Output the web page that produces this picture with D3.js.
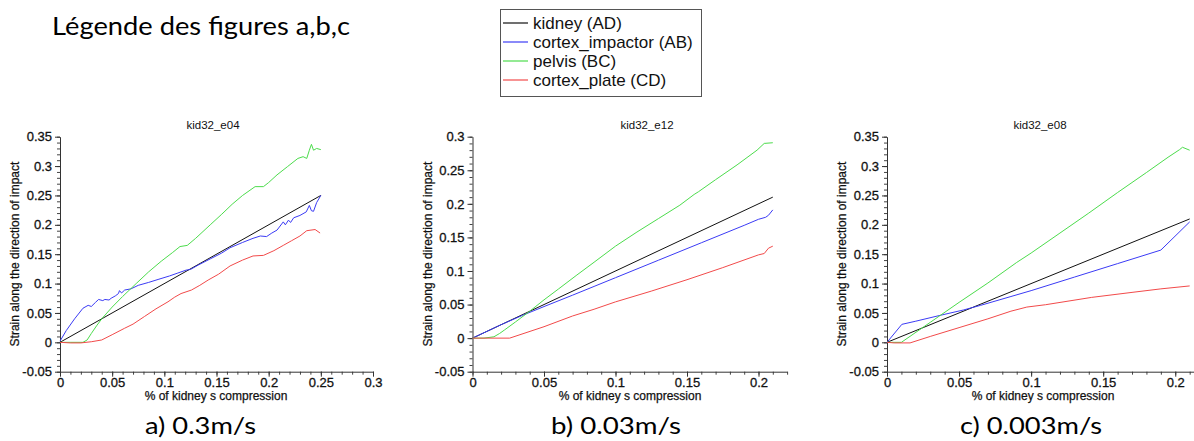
<!DOCTYPE html>
<html>
<head>
<meta charset="utf-8">
<script src="https://cdn.jsdelivr.net/npm/d3@7/dist/d3.min.js"></script>
<style>
  html, body { margin: 0; padding: 0; background: #fff; }
  svg { display: block; }
</style>
</head>
<body>
<svg id="chart" width="1194" height="441"></svg>
<script>
// ---------------- DATA ----------------
const seriesNames = ["kidney (AD)", "cortex_impactor (AB)", "pelvis (BC)", "cortex_plate (CD)"];
const chartTitles = ["kid32_e04", "kid32_e12", "kid32_e08"];
const captions = ["a) 0.3m/s", "b) 0.03m/s", "c) 0.003m/s"];
const legendTitle = "Légende des figures a,b,c";
const xAxisTitle = "% of kidney s compression";
const yAxisTitle = "Strain along the direction of impact";

const xTicksA = [0, 0.05, 0.1, 0.15, 0.2, 0.25, 0.3];
const xTicksB = [0, 0.05, 0.1, 0.15, 0.2];
const xTicksC = [0, 0.05, 0.1, 0.15, 0.2];
const yTicksA = [-0.05, 0, 0.05, 0.1, 0.15, 0.2, 0.25, 0.3, 0.35];
const yTicksB = [-0.05, 0, 0.05, 0.1, 0.15, 0.2, 0.25, 0.3];
const yTicksC = [-0.05, 0, 0.05, 0.1, 0.15, 0.2, 0.25, 0.3, 0.35];

// chart a) kid32_e04   [x, y]
const kidneyA = [[0, 0], [0.25, 0.25]];
const impactorA = [[0,0.002],[0.006,0.02],[0.014,0.04],[0.022,0.058],[0.027,0.063],[0.03,0.061],[0.034,0.068],[0.037,0.073],[0.041,0.071],[0.043,0.073],[0.047,0.072],[0.049,0.075],[0.053,0.079],[0.056,0.083],[0.057,0.088],[0.059,0.084],[0.062,0.089],[0.068,0.091],[0.075,0.097],[0.085,0.102],[0.094,0.107],[0.105,0.113],[0.113,0.118],[0.121,0.123],[0.125,0.124],[0.133,0.132],[0.144,0.142],[0.155,0.152],[0.163,0.161],[0.175,0.17],[0.185,0.177],[0.192,0.181],[0.198,0.18],[0.203,0.186],[0.208,0.191],[0.214,0.205],[0.216,0.2],[0.219,0.208],[0.221,0.204],[0.224,0.212],[0.23,0.216],[0.236,0.222],[0.239,0.233],[0.241,0.224],[0.243,0.223],[0.246,0.238],[0.25,0.25]];
const pelvisA = [[0,0],[0.022,0],[0.026,0.004],[0.03,0.015],[0.035,0.028],[0.04,0.04],[0.05,0.06],[0.06,0.078],[0.073,0.1],[0.085,0.12],[0.097,0.138],[0.108,0.153],[0.115,0.163],[0.122,0.165],[0.13,0.177],[0.144,0.2],[0.155,0.218],[0.165,0.235],[0.175,0.25],[0.187,0.265],[0.195,0.265],[0.2,0.272],[0.208,0.285],[0.218,0.299],[0.228,0.313],[0.233,0.316],[0.2365,0.313],[0.239,0.327],[0.241,0.337],[0.243,0.327],[0.246,0.33],[0.25,0.328]];
const plateA = [[0,0],[0.01,-0.001],[0.02,-0.001],[0.03,0.001],[0.04,0.004],[0.05,0.013],[0.062,0.024],[0.07,0.031],[0.081,0.044],[0.092,0.057],[0.1035,0.069],[0.11,0.077],[0.116,0.083],[0.126,0.089],[0.134,0.097],[0.142,0.106],[0.152,0.116],[0.163,0.13],[0.175,0.14],[0.185,0.147],[0.195,0.148],[0.205,0.156],[0.214,0.165],[0.222,0.173],[0.23,0.181],[0.2365,0.19],[0.2445,0.192],[0.2493,0.186]];

// chart b) kid32_e12
const kidneyB = [[0, 0], [0.21, 0.21]];
const impactorB = [[0,0],[0.02,0.02],[0.035,0.034],[0.05,0.047],[0.07,0.064],[0.085,0.077],[0.1,0.09],[0.13,0.116],[0.16,0.142],[0.19,0.168],[0.2,0.177],[0.205,0.18],[0.207,0.183],[0.21,0.191]];
const pelvisB = [[0,0],[0.008,0],[0.015,0.002],[0.019,0.007],[0.0223,0.012],[0.03,0.024],[0.04,0.04],[0.05,0.057],[0.06,0.073],[0.073,0.094],[0.085,0.113],[0.1,0.137],[0.115,0.158],[0.13,0.178],[0.145,0.198],[0.155,0.214],[0.158,0.218],[0.17,0.236],[0.185,0.258],[0.199,0.28],[0.204,0.29],[0.21,0.291]];
const plateB = [[0,0],[0.026,0],[0.05,0.017],[0.07,0.033],[0.085,0.043],[0.1,0.054],[0.125,0.07],[0.15,0.087],[0.175,0.105],[0.2,0.124],[0.204,0.126],[0.207,0.134],[0.21,0.137]];

// chart c) kid32_e08
const kidneyC = [[0, 0], [0.21, 0.21]];
const impactorC = [[0,0],[0.0103,0.0306],[0.02,0.036],[0.037,0.046],[0.053,0.055],[0.065,0.063],[0.086,0.078],[0.1,0.088],[0.13,0.111],[0.16,0.134],[0.19,0.157],[0.21,0.205]];
const pelvisC = [[0,0],[0.01,0],[0.03,0.034],[0.05,0.068],[0.07,0.101],[0.09,0.136],[0.1,0.152],[0.12,0.186],[0.14,0.22],[0.16,0.255],[0.18,0.289],[0.195,0.315],[0.203,0.328],[0.205,0.332],[0.21,0.327]];
const plateC = [[0,0],[0.005,-0.001],[0.016,-0.001],[0.03,0.01],[0.05,0.025],[0.07,0.04],[0.086,0.053],[0.097,0.06],[0.11,0.064],[0.142,0.0765],[0.17,0.085],[0.19,0.091],[0.21,0.096]];

// ---------------- STYLE / LAYOUT ----------------
const colors = ["#111111", "#3b3bf5", "#4cdc4c", "#f24a4a"];
const yTop = 136.7, yBottom = 371.7;
const panels = [
  { title: chartTitles[0], series: [kidneyA, impactorA, pelvisA, plateA], xDomain: [0, 0.3], xRange: [60, 373],
    yDomain: [-0.05, 0.35], xTicks: xTicksA, yTicks: yTicksA, titleX: 213, xLabelX: 216, yLabelX: 15 },
  { title: chartTitles[1], series: [kidneyB, impactorB, pelvisB, plateB], xDomain: [0, 0.22], xRange: [472.5, 787.1],
    yDomain: [-0.05, 0.3], xTicks: xTicksB, yTicks: yTicksB, titleX: 647, xLabelX: 630, yLabelX: 428 },
  { title: chartTitles[2], series: [kidneyC, impactorC, pelvisC, plateC], xDomain: [0, 0.213], xRange: [887, 1194],
    yDomain: [-0.05, 0.35], xTicks: xTicksC, yTicks: yTicksC, titleX: 1040, xLabelX: 1043, yLabelX: 842 }
];

const svg = d3.select("#chart");
const fmt = d => String(+(+d).toFixed(2));
const axisFont = "'Liberation Sans', Arial, sans-serif";

panels.forEach(p => {
  const x = d3.scaleLinear().domain(p.xDomain).range(p.xRange);
  const y = d3.scaleLinear().domain(p.yDomain).range([yBottom, yTop]);
  const g = svg.append("g");

  const minorX = d3.range(0, p.xDomain[1] + 1e-9, 0.01);
  const minorY = d3.range(p.yDomain[0], p.yDomain[1] + 1e-9, 0.01);

  // minor ticks
  g.append("g").attr("transform", `translate(0,${yBottom})`)
    .call(d3.axisBottom(x).tickValues(minorX).tickSize(3).tickSizeOuter(0).tickFormat(""))
    .call(s => s.select(".domain").remove())
    .selectAll("line").attr("stroke", "#444");
  g.append("g").attr("transform", `translate(${p.xRange[0]},0)`)
    .call(d3.axisLeft(y).tickValues(minorY).tickSize(3).tickSizeOuter(0).tickFormat(""))
    .call(s => s.select(".domain").remove())
    .selectAll("line").attr("stroke", "#444");

  // major axes
  const xa = g.append("g").attr("transform", `translate(0,${yBottom})`)
    .call(d3.axisBottom(x).tickValues(p.xTicks).tickSize(5).tickSizeOuter(0).tickPadding(1).tickFormat(fmt));
  const ya = g.append("g").attr("transform", `translate(${p.xRange[0]},0)`)
    .call(d3.axisLeft(y).tickValues(p.yTicks).tickSize(5).tickSizeOuter(0).tickPadding(3).tickFormat(fmt));
  [xa, ya].forEach(a => {
    a.select(".domain").attr("stroke", "#333");
    a.selectAll("line").attr("stroke", "#333");
    a.selectAll("text").attr("font-family", axisFont).attr("font-size", 13).attr("fill", "#111")
      .attr("stroke", "#111").attr("stroke-width", 0.3);
  });

  // lines
  const line = d3.line().x(d => x(d[0])).y(d => y(d[1]));
  p.series.forEach((s, i) => {
    g.append("path").datum(s).attr("d", line)
      .attr("fill", "none").attr("stroke", colors[i]).attr("stroke-width", 1)
      .attr("stroke-linejoin", "round");
  });

  // titles
  g.append("text").attr("x", p.titleX).attr("y", 129).attr("text-anchor", "middle")
    .attr("font-family", axisFont).attr("font-size", 11.5).attr("fill", "#111").text(p.title);
  g.append("text").attr("x", p.xLabelX).attr("y", 400).attr("text-anchor", "middle")
    .attr("font-family", axisFont).attr("font-size", 12).attr("fill", "#111")
    .attr("stroke", "#111").attr("stroke-width", 0.25).text(xAxisTitle);
  g.append("text").attr("transform", `translate(${p.yLabelX + 4},254) rotate(-90)`).attr("text-anchor", "middle")
    .attr("font-family", axisFont).attr("font-size", 12).attr("fill", "#111")
    .attr("stroke", "#111").attr("stroke-width", 0.25).text(yAxisTitle);
});

// legend box
const lg = svg.append("g");
lg.append("rect").attr("x", 500.5).attr("y", 9.5).attr("width", 201).attr("height", 87)
  .attr("fill", "#fff").attr("stroke", "#555").attr("stroke-width", 1);
seriesNames.forEach((n, i) => {
  const yy = 23 + i * 19;
  lg.append("line").attr("x1", 503).attr("x2", 528).attr("y1", yy).attr("y2", yy)
    .attr("stroke", colors[i]).attr("stroke-width", 1.2);
  lg.append("text").attr("x", 533).attr("y", yy).attr("dy", "0.35em")
    .attr("font-family", axisFont).attr("font-size", 17).attr("fill", "#111").text(n);
});

// big texts (Calibri-like)
function fitted(text, xx, yy, width, size) {
  return svg.append("text").attr("x", xx).attr("y", yy)
    .attr("font-family", "Lato, 'Open Sans', sans-serif").attr("font-size", size).attr("fill", "#000")
    .attr("textLength", width).attr("lengthAdjust", "spacingAndGlyphs").text(text);
}
fitted(legendTitle, 52, 35, 298, 25);
fitted(captions[0], 145, 434, 111, 24);
fitted(captions[1], 551, 434, 130, 24);
fitted(captions[2], 960, 434, 142, 24);
</script>
</body>
</html>
